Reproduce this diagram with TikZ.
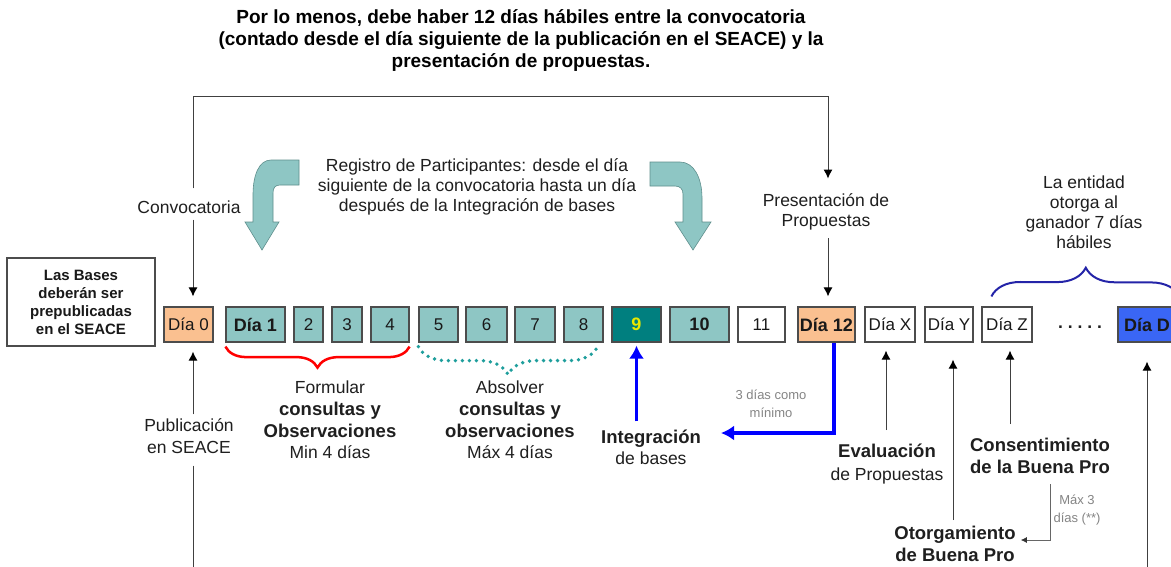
\documentclass[tikz,border=0pt]{standalone}
\usepackage{fontspec}
\setmainfont{Liberation Sans}
\usetikzlibrary{arrows.meta,decorations.pathreplacing}
\definecolor{peach}{HTML}{FAC090}
\definecolor{tealA}{HTML}{8EC6C4}
\definecolor{tealB}{HTML}{007F7F}
\definecolor{dayblue}{HTML}{3A66F5}
\definecolor{dotteal}{HTML}{1E9E9C}
\definecolor{navybr}{HTML}{2424A8}
\definecolor{grtext}{HTML}{858585}
\definecolor{yel}{HTML}{E8E800}
\definecolor{arrowedge}{HTML}{5F8F8D}
\newcommand{\bl}[1]{{\fontsize{18.5pt}{20pt}\selectfont\bfseries #1}}
\begin{document}
\begin{tikzpicture}[x=1pt,y=-1pt,
  daybox/.style={draw=black!70, line width=1.2pt, minimum height=35pt, inner sep=0pt, font=\fontsize{17pt}{20pt}\selectfont, text=black!90},
  boldday/.style={font=\fontsize{18pt}{20pt}\selectfont\bfseries},
  lbl/.style={align=center, inner sep=2pt, text=black!88, font=\fontsize{17.5pt}{20pt}\selectfont},
  gray lbl/.style={align=center, inner sep=1pt, text=grtext, font=\fontsize{13pt}{18.5pt}\selectfont},
  conn/.style={draw=black!75, line width=1pt},
  arr/.style={conn, -{Latex[length=9pt,width=9pt,color=black]}},
  arrsm/.style={draw=black!60, line width=0.8pt, -{Latex[length=6pt,width=6pt,color=black!80]}},
  barr/.style={draw=blue, line width=3.5pt, -{Latex[length=13pt,width=15pt]}},
  bendarrow/.style={fill=tealA, draw=arrowedge, line width=0.6pt}
]
\fill[white] (0,0) rectangle (1171,566);
\clip (0,0) rectangle (1171,566);

% top note
\node[lbl, font=\fontsize{19pt}{22pt}\selectfont\bfseries, text=black] (note) at (521,40)
  {Por lo menos, debe haber 12 días hábiles entre la convocatoria\\(contado desde el día siguiente de la publicación en el SEACE) y la\\presentación de propuestas.};

% day boxes
\node[draw=black!70, line width=1.2pt, minimum width=148pt, minimum height=88pt, inner sep=0pt, align=center,
      font=\fontsize{15pt}{18pt}\selectfont\bfseries, text=black!90] (bases) at (81,302)
  {Las Bases\\deberán ser\\prepublicadas\\en el SEACE};
\node[daybox, fill=peach, minimum width=49pt] (d0) at (188.5,324.5) {Día 0};
\node[daybox, boldday, fill=tealA, minimum width=59pt] (d1) at (255.5,324.5) {Día 1};
\node[daybox, fill=tealA, minimum width=29pt] (d2) at (308.5,324.5) {2};
\node[daybox, fill=tealA, minimum width=30pt] (d3) at (347,324.5) {3};
\node[daybox, fill=tealA, minimum width=38pt] (d4) at (390,324.5) {4};
\node[daybox, fill=tealA, minimum width=39pt] (d5) at (438.5,324.5) {5};
\node[daybox, fill=tealA, minimum width=41pt] (d6) at (486.5,324.5) {6};
\node[daybox, fill=tealA, minimum width=40pt] (d7) at (535,324.5) {7};
\node[daybox, fill=tealA, minimum width=39pt] (d8) at (583.5,324.5) {8};
\node[daybox, boldday, fill=tealB, text=yel, minimum width=49pt] (d9) at (636.5,324.5) {9};
\node[daybox, boldday, fill=tealA, minimum width=59pt] (d10) at (699.5,324.5) {10};
\node[daybox, fill=white, minimum width=47pt] (d11) at (761.5,324.5) {11};
\node[daybox, boldday, fill=peach, minimum width=57pt] (d12) at (826.5,324.5) {Día 12};
\node[daybox, fill=white, minimum width=50pt] (dX) at (890,324.5) {Día X};
\node[daybox, fill=white, minimum width=48pt] (dY) at (949,324.5) {Día Y};
\node[daybox, fill=white, minimum width=50pt] (dZ) at (1007,324.5) {Día Z};
\node[lbl, font=\fontsize{17.5pt}{20pt}\selectfont\bfseries] (dots) at (1080,327) {.\ .\ .\ .\ .};
\node[daybox, boldday, fill=dayblue, minimum width=58pt] (dD) at (1147,324.5) {Día D};

% upper labels
\node[lbl] (conv) at (189,207) {Convocatoria};
\node[lbl] (pres) at (826,212) {Presentación de\\Propuestas};
\node[lbl] (reg) at (477,187) {Registro de Participantes: desde el día\\siguiente de la convocatoria hasta un día\\después de la Integración de bases};
\node[lbl] (ent) at (1084,212.5) {La entidad\\otorga al\\ganador 7 días\\hábiles};

\coordinate (tl) at (193,96);
\coordinate (tr) at (828,96);
\draw[arr, shorten <=10pt, shorten >=13pt] (tl |- conv.north) -- (tl) -- (tr) -- (tr |- pres.north);
\draw[arr, shorten <=4pt, shorten >=10pt] (tl |- conv.south) -- (tl |- d0.north);
\draw[arr, shorten <=6pt, shorten >=10pt] (tr |- pres.south) -- (tr |- d12.north);

% curved block arrows
\path[bendarrow] (299,160) -- (271,160) .. controls (259,160) and (253,175) .. (253,195)
  -- (253,222) -- (245,222) -- (262,250) -- (279,222) -- (273,222) -- (273,193)
  .. controls (273,188) and (275,185) .. (280,185) -- (299,185) -- cycle;
\path[bendarrow] (650,162) -- (680,162) .. controls (694,162) and (702,178) .. (702,198)
  -- (702,222) -- (711,222) -- (693,250) -- (675,222) -- (683,222) -- (683,194)
  .. controls (683,189) and (680,186) .. (675,186) -- (650,186) -- cycle;

% braces
\draw[red, line width=2.5pt, decorate, decoration={brace, mirror, amplitude=21pt}]
  ([yshift=-4pt]d1.south west) -- ([yshift=-4pt]d4.south east);
\draw[dotteal, line width=3.8pt, line cap=round, dash pattern=on 0pt off 7pt, decorate, decoration={brace, mirror, amplitude=28pt}]
  ([yshift=-4pt]d5.south west) -- ([yshift=-4pt,xshift=-6pt]d8.south east);
\coordinate (brR) at (1180,297);
\draw[navybr, line width=2pt, decorate, decoration={brace, amplitude=29pt}]
  ([yshift=10pt,xshift=10pt]dZ.north west) -- (brR);

% lower labels
\node[lbl, font=\fontsize{17.5pt}{21.7pt}\selectfont] (form) at (330,420) {Formular\\\bl{consultas y}\\\bl{Observaciones}\\Min 4 días};
\node[lbl, font=\fontsize{17.5pt}{21.7pt}\selectfont] (abs) at (510,420) {Absolver\\\bl{consultas y}\\\bl{observaciones}\\Máx 4 días};
\node[lbl, font=\fontsize{17.5pt}{22pt}\selectfont] (pub) at (189,436) {Publicación\\en SEACE};
\coordinate (pubbot) at (193,580);
\draw[arr, shorten <=2pt, shorten >=9pt] (tl |- pub.north) -- (tl |- d0.south);
\draw[conn, shorten <=10pt] (tl |- pub.south) -- (pubbot);

\node[lbl, font=\fontsize{17.5pt}{21pt}\selectfont] (intg) at (651,447) {\bl{Integración}\\de bases};
\draw[barr, shorten <=6pt, shorten >=3pt] (d9.south |- intg.north) -- (d9.south);
\node[gray lbl] (tres) at (771,404) {3 días como\\mínimo};
\coordinate (lcorner) at (834,433);
\coordinate (ltip) at (721,433);
\draw[barr, line join=miter] (lcorner |- d12.south) -- (lcorner) -- (ltip);

\node[lbl, font=\fontsize{17.5pt}{23pt}\selectfont] (eval) at (887,464.5) {\bl{Evaluación}\\de Propuestas};
\draw[arr, shorten <=12pt, shorten >=8pt] (886,0 |- eval.north) -- (886,0 |- dX.south);

\node[lbl, font=\fontsize{17.5pt}{22pt}\selectfont] (cons) at (1040,456) {\bl{Consentimiento}\\\bl{de la Buena Pro}};
\draw[arr, shorten <=12pt, shorten >=8pt] (1010,0 |- cons.north) -- (1010,0 |- dZ.south);

\node[lbl, font=\fontsize{17.5pt}{22pt}\selectfont] (otorg) at (955,544) {\bl{Otorgamiento}\\\bl{de Buena Pro}};
\draw[arr, shorten <=4pt, shorten >=17pt] (953,0 |- otorg.north) -- (953,0 |- dY.south);

\node[gray lbl] (max3) at (1077,510) {Máx 3\\días (**)};
\draw[arrsm, shorten <=8pt, shorten >=3pt] (1050,0 |- cons.south) |- ([yshift=4pt]otorg.east);

\coordinate (dDbot) at (1147,580);
\draw[arr, shorten >=19pt] (dDbot) -- (dD.south);
\end{tikzpicture}
\end{document}
